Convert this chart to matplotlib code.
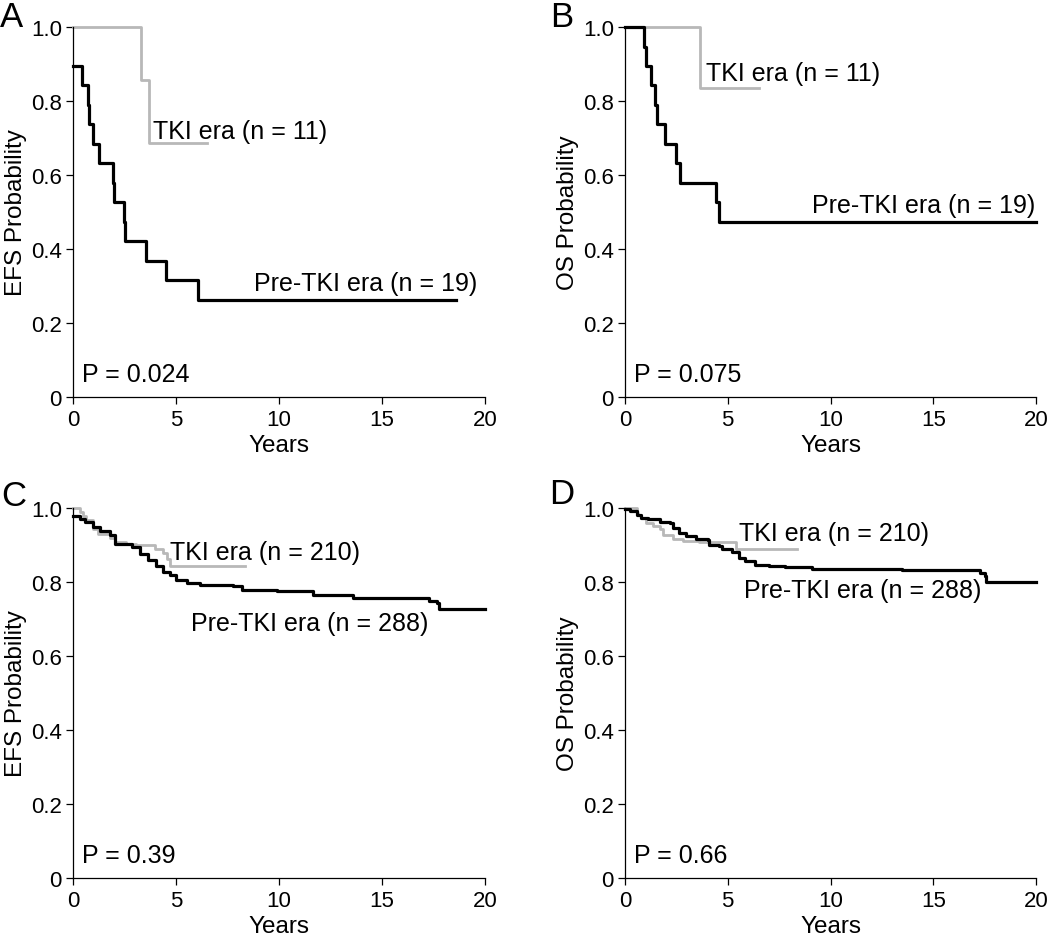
import matplotlib
matplotlib.use('Agg')
import matplotlib.pyplot as plt

plt.rcParams['font.family'] = ['Liberation Sans', 'DejaVu Sans']

# Panel A: EFS, small cohort
a_pre_t = [0, 0.45, 0.73, 0.78, 0.96, 1.26, 1.94, 1.98, 2.48, 2.54, 3.53, 4.50, 6.08, 18.6]
a_pre_s = [0.895, 0.842, 0.789, 0.737, 0.684, 0.632, 0.579, 0.526, 0.474, 0.421, 0.368, 0.316, 0.263, 0.263]
a_tki_t = [0, 3.32, 3.68, 6.5]
a_tki_s = [1.0, 0.857, 0.686, 0.686]

# Panel B: OS, small cohort
b_pre_t = [0, 0.93, 1.04, 1.25, 1.45, 1.57, 1.96, 2.46, 2.68, 4.43, 4.59, 20]
b_pre_s = [1.0, 0.947, 0.895, 0.842, 0.789, 0.737, 0.684, 0.632, 0.579, 0.526, 0.474, 0.474]
b_tki_t = [0, 3.66, 6.5]
b_tki_s = [1.0, 0.834, 0.834]

# Panel C: EFS, large cohort
c_pre_t = [0, 0.36, 0.57, 0.97, 1.30, 1.78, 2.03, 2.84, 3.24, 3.65, 4.05, 4.38, 4.70, 5.02,
           5.51, 6.16, 7.78, 8.18, 9.89, 11.67, 13.61, 17.26, 17.67, 17.75, 20]
c_pre_s = [0.978, 0.969, 0.962, 0.949, 0.938, 0.926, 0.904, 0.895, 0.877, 0.859, 0.844, 0.827,
           0.818, 0.805, 0.798, 0.791, 0.789, 0.778, 0.775, 0.764, 0.758, 0.748, 0.742, 0.727, 0.727]
c_tki_t = [0, 0.36, 0.49, 0.65, 0.97, 1.22, 1.78, 2.03, 2.59, 3.08, 3.97, 4.38, 4.54, 4.70, 8.35]
c_tki_s = [1.0, 0.989, 0.978, 0.967, 0.944, 0.931, 0.919, 0.908, 0.904, 0.899, 0.888, 0.879,
           0.863, 0.843, 0.843]

# Panel D: OS, large cohort
d_pre_t = [0, 0.24, 0.56, 0.80, 1.12, 1.69, 2.17, 2.33, 2.65, 2.97, 3.45, 4.02, 4.10, 4.58,
           4.74, 5.22, 5.54, 5.86, 6.35, 6.99, 7.79, 9.08, 13.49, 17.27, 17.51, 17.59, 20]
d_pre_s = [0.997, 0.991, 0.982, 0.973, 0.970, 0.961, 0.960, 0.946, 0.933, 0.924, 0.916, 0.913,
           0.901, 0.897, 0.888, 0.880, 0.865, 0.856, 0.847, 0.844, 0.840, 0.836, 0.832, 0.823,
           0.816, 0.800, 0.800]
d_tki_t = [0, 0.56, 0.64, 0.80, 1.04, 1.37, 1.69, 1.85, 2.33, 2.81, 3.61, 5.38, 8.35]
d_tki_s = [1.0, 0.987, 0.980, 0.973, 0.960, 0.951, 0.943, 0.928, 0.915, 0.910, 0.907, 0.888, 0.888]

x_ticks = [0, 5, 10, 15, 20]
y_ticks = [0, 0.2, 0.4, 0.6, 0.8, 1.0]
y_tick_labels = ['0', '0.2', '0.4', '0.6', '0.8', '1.0']

panels = [
    dict(letter='A', ylabel='EFS Probability', pval='P = 0.024',
         pre=(a_pre_t, a_pre_s), tki=(a_tki_t, a_tki_s),
         tki_lab=('TKI era (n = 11)', 3.87, 0.70), pre_lab=('Pre-TKI era (n = 19)', 8.77, 0.289)),
    dict(letter='B', ylabel='OS Probability', pval='P = 0.075',
         pre=(b_pre_t, b_pre_s), tki=(b_tki_t, b_tki_s),
         tki_lab=('TKI era (n = 11)', 3.94, 0.857), pre_lab=('Pre-TKI era (n = 19)', 9.11, 0.50)),
    dict(letter='C', ylabel='EFS Probability', pval='P = 0.39',
         pre=(c_pre_t, c_pre_s), tki=(c_tki_t, c_tki_s),
         tki_lab=('TKI era (n = 210)', 4.69, 0.863), pre_lab=('Pre-TKI era (n = 288)', 5.71, 0.671)),
    dict(letter='D', ylabel='OS Probability', pval='P = 0.66',
         pre=(d_pre_t, d_pre_s), tki=(d_tki_t, d_tki_s),
         tki_lab=('TKI era (n = 210)', 5.54, 0.914), pre_lab=('Pre-TKI era (n = 288)', 5.78, 0.760)),
]

W, H = 1050, 937
boxes = [(73, 28, 485, 398), (625, 28, 1036, 398), (73, 509, 485, 879), (625, 509, 1036, 879)]
letter_pos = [(0, 27), (550, 27), (1, 506), (549, 504)]

fig = plt.figure(figsize=(W / 100, H / 100), dpi=100)

for p, (l, t, r, b), (lx, ly) in zip(panels, boxes, letter_pos):
    ax = fig.add_axes([l / W, 1 - b / H, (r - l) / W, (b - t) / H])
    ax.step(p['tki'][0], p['tki'][1], where='post', color='#b8b8b8', lw=2.0, clip_on=False)
    ax.step(p['pre'][0], p['pre'][1], where='post', color='black', lw=2.3, clip_on=False)
    ax.set_xlim(0, 20)
    ax.set_ylim(0, 1)
    ax.set_xticks(x_ticks)
    ax.set_yticks(y_ticks)
    ax.set_yticklabels(y_tick_labels)
    ax.tick_params(labelsize=16, length=5, width=0.9, direction='out')
    ax.tick_params(axis='x', pad=3.6)
    ax.tick_params(axis='y', pad=3)
    for s in ['top', 'right']:
        ax.spines[s].set_visible(False)
    for s in ['left', 'bottom']:
        ax.spines[s].set_linewidth(0.9)
    ax.set_xlabel('Years', fontsize=17.5, labelpad=3)
    ax.set_ylabel(p['ylabel'], fontsize=17.5, labelpad=3)
    ax.text(0.42, 0.044, p['pval'], fontsize=18, va='baseline')
    txt, tx, ty = p['tki_lab']
    ax.text(tx, ty, txt, fontsize=18, va='baseline')
    txt, tx, ty = p['pre_lab']
    ax.text(tx, ty, txt, fontsize=18, va='baseline')
    fig.text(lx / W, 1 - ly / H, p['letter'], fontsize=25, va='baseline', ha='left')

fig.savefig('out.png', dpi=100)
